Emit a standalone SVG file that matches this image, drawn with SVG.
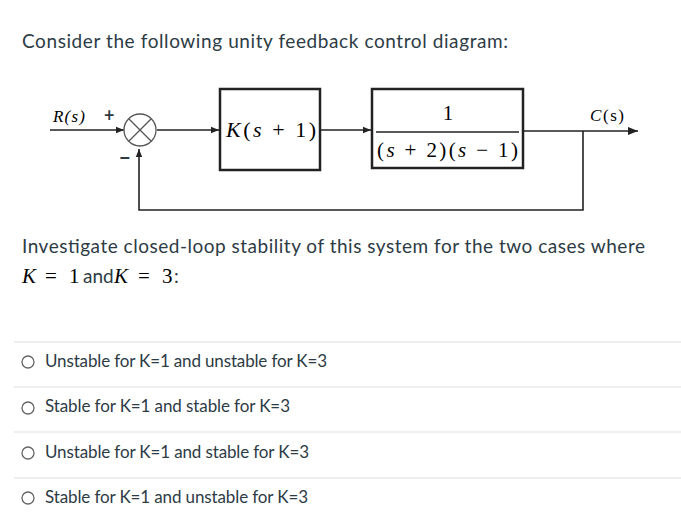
<svg xmlns="http://www.w3.org/2000/svg" width="681" height="527" viewBox="0 0 681 527">
<style>
.t{font-family:Lato,"Open Sans",sans-serif;fill:#2d3b45}
.c{font-family:Lato,"Liberation Sans",sans-serif;fill:#2d3b45}
.m{font-family:"Liberation Serif",serif;fill:#000}
.ln{stroke:#222;stroke-width:1.6;fill:none}
.bx{stroke:#222;stroke-width:2.5;fill:#fff}
.sep{stroke:#ddd;stroke-width:1}
.rb{fill:#fff;stroke:#666;stroke-width:1.3}
</style>
<defs><marker id="a" viewBox="0 0 10 10" refX="10" refY="5" markerWidth="8" markerHeight="8" markerUnits="userSpaceOnUse" orient="auto"><path d="M0,1 L10,5 L0,9 z" fill="#222"/></marker>
<marker id="b" viewBox="0 0 10 10" refX="10" refY="5" markerWidth="10" markerHeight="10" markerUnits="userSpaceOnUse" orient="auto"><path d="M0,1 L10,5 L0,9 z" fill="#222"/></marker></defs>
<rect width="681" height="527" fill="#fff"/>
<text class="t" x="22" y="48" font-size="19" textLength="486">Consider the following unity feedback control diagram:</text>
<g id="connectors">
<line class="ln" x1="50" y1="130" x2="124" y2="130" marker-end="url(#a)"/>
<line class="ln" x1="157" y1="130" x2="219" y2="130" marker-end="url(#a)"/>
<line class="ln" x1="321" y1="130" x2="371" y2="130" marker-end="url(#a)"/>
<line class="ln" x1="523" y1="131" x2="638" y2="131" marker-end="url(#b)"/>
<polyline class="ln" points="583,131 583,210 139,210 139,149" marker-end="url(#a)"/>
</g>
<g id="labels">
<text class="m" x="53" y="122" font-size="17" font-style="italic" fill="#2a3a6a" textLength="32">R(s)</text>
<text class="t" x="104" y="122" font-size="18" font-weight="bold">+</text>
<text class="t" x="119" y="165" font-size="20" font-weight="bold">−</text>
<text class="m" x="590" y="121" font-size="17" fill="#2a3a6a" textLength="34"><tspan font-style="italic">C</tspan>(s)</text>
</g>
<g id="sum"><circle cx="140" cy="130" r="16" fill="#fff" stroke="#555" stroke-width="1.3"/>
<path d="M129,119 L151,141 M151,119 L129,141" stroke="#555" stroke-width="1.3"/></g>
<g id="controller"><rect class="bx" x="220" y="89" width="100" height="81"/>
<text class="m" x="226" y="137" font-size="22" textLength="90"><tspan font-style="italic">K</tspan>(<tspan font-style="italic">s</tspan> + 1)</text></g>
<g id="plant"><rect class="bx" x="372" y="89" width="151" height="79"/>
<line x1="376" y1="132" x2="519" y2="132" stroke="#222" stroke-width="1.4"/>
<text class="m" x="448" y="120" font-size="21" text-anchor="middle">1</text>
<text class="m" x="377" y="157" font-size="21" textLength="141">(<tspan font-style="italic">s</tspan> + 2)(<tspan font-style="italic">s</tspan> − 1)</text></g>
<text class="c" x="22" y="253" font-size="19" textLength="623" fill="#000">Investigate closed-loop stability of this system for the two cases where</text>
<g id="kline" font-size="21">
<text class="m" x="22" y="283" font-style="italic">K</text>
<text class="m" x="45" y="283">=</text>
<text class="m" x="69" y="283">1</text>
<text class="c" x="83" y="283" font-size="19" fill="#000">and</text>
<text class="m" x="114" y="283" font-style="italic">K</text>
<text class="m" x="138" y="283">=</text>
<text class="m" x="162" y="283">3</text>
<text class="c" x="174" y="283" font-size="19" fill="#000">:</text>
</g>
<g id="options">
<line class="sep" x1="14" y1="342" x2="681" y2="342"/>
<line class="sep" x1="14" y1="387" x2="681" y2="387"/>
<line class="sep" x1="14" y1="432" x2="681" y2="432"/>
<line class="sep" x1="14" y1="478" x2="681" y2="478"/>
<circle class="rb" cx="28" cy="362" r="6"/><text class="t" x="45" y="367" font-size="17" textLength="282">Unstable for K=1 and unstable for K=3</text>
<circle class="rb" cx="28" cy="408" r="6"/><text class="t" x="45" y="412" font-size="17" textLength="245">Stable for K=1 and stable for K=3</text>
<circle class="rb" cx="28" cy="453" r="6"/><text class="t" x="45" y="458" font-size="17" textLength="264">Unstable for K=1 and stable for K=3</text>
<circle class="rb" cx="28" cy="498" r="6"/><text class="t" x="45" y="503" font-size="17" textLength="263">Stable for K=1 and unstable for K=3</text>
</g>
</svg>
